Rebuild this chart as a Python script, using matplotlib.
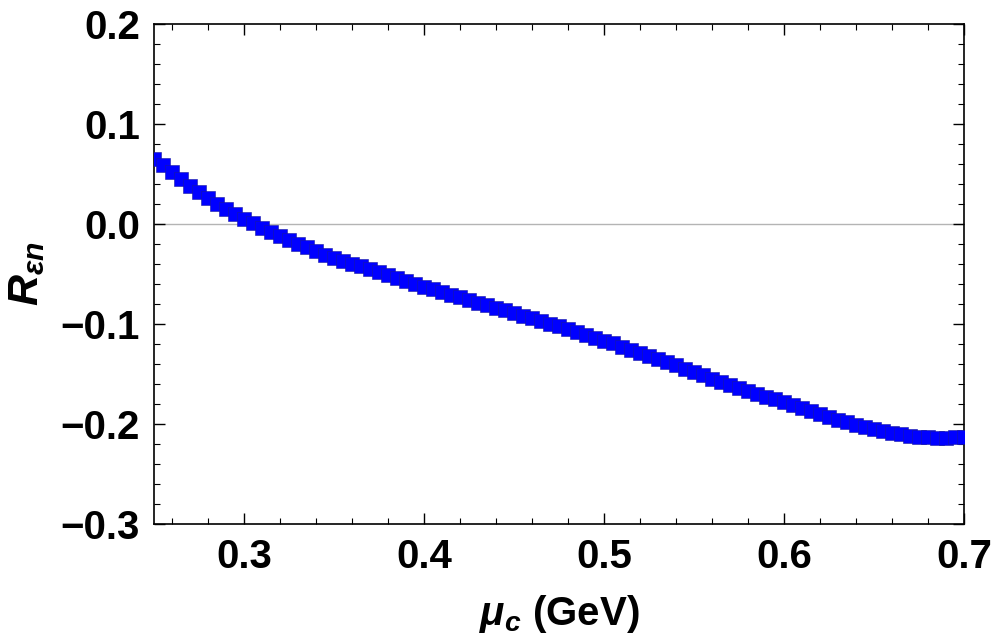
import numpy as np
import matplotlib
matplotlib.use("Agg")
import matplotlib.pyplot as plt
from matplotlib.ticker import MultipleLocator

plt.rcParams['font.family'] = ['Liberation Sans', 'DejaVu Sans']
plt.rcParams['mathtext.fontset'] = 'custom'
plt.rcParams['mathtext.it'] = 'Liberation Sans:italic:bold'
plt.rcParams['mathtext.rm'] = 'Liberation Sans:bold'
plt.rcParams['mathtext.bf'] = 'Liberation Sans:bold'

# mu_c grid (GeV)
mu_c = np.round(np.arange(0.25, 0.7001, 0.005), 3)

# R values
r_en = [
    0.0655, 0.0587, 0.0520, 0.0447, 0.0380, 0.0323, 0.0263, 0.0203, 0.0153, 0.0103,
    0.0053, 0.0010, -0.0037, -0.0080, -0.0120, -0.0157, -0.0197, -0.0230, -0.0270, -0.0307,
    -0.0337, -0.0370, -0.0400, -0.0423, -0.0453, -0.0483, -0.0513, -0.0543, -0.0570, -0.0597,
    -0.0627, -0.0653, -0.0680, -0.0707, -0.0733, -0.0760, -0.0787, -0.0810, -0.0837, -0.0863,
    -0.0890, -0.0917, -0.0943, -0.0970, -0.0997, -0.1023, -0.1050, -0.1080, -0.1110, -0.1140,
    -0.1167, -0.1193, -0.1227, -0.1257, -0.1290, -0.1320, -0.1350, -0.1383, -0.1413, -0.1450,
    -0.1483, -0.1513, -0.1550, -0.1583, -0.1612, -0.1643, -0.1674, -0.1704, -0.1728, -0.1752,
    -0.1779, -0.1810, -0.1843, -0.1873, -0.1903, -0.1930, -0.1957, -0.1983, -0.2010, -0.2033,
    -0.2053, -0.2070, -0.2087, -0.2103, -0.2117, -0.2127, -0.2133, -0.2137, -0.2137, -0.2133,
    -0.2127,
]

fig = plt.figure(figsize=(9.97, 6.44), dpi=100)
ax = fig.add_axes([0.1545, 0.1863, 0.8124, 0.7764])

ax.axhline(0, color='#b4b4b4', lw=1, zorder=1)
ax.plot(mu_c, r_en, 's', ms=10.5, color='#0000ff', mec='#1818a0', mew=0.4, zorder=3)

ax.set_xlim(0.25, 0.7)
ax.set_ylim(-0.3, 0.2)
ax.xaxis.set_minor_locator(MultipleLocator(0.02))
ax.yaxis.set_minor_locator(MultipleLocator(0.02))
ax.set_xticks([0.3, 0.4, 0.5, 0.6, 0.7])
ax.set_xticklabels(['0.3', '0.4', '0.5', '0.6', '0.7'])
ax.set_yticks([-0.3, -0.2, -0.1, 0.0, 0.1, 0.2])
ax.set_yticklabels(['\u22120.3', '\u22120.2', '\u22120.1', '0.0', '0.1', '0.2'])

ax.tick_params(which='both', direction='in', top=True, right=True, color='black')
ax.tick_params(which='major', length=8, width=1, labelsize=29, pad=10)
ax.tick_params(which='minor', length=4.5, width=0.8)
for lab in ax.get_xticklabels() + ax.get_yticklabels():
    lab.set_fontweight('bold')
for s in ax.spines.values():
    s.set_linewidth(1.2)

ax.set_xlabel(r'$\mu_c$ (GeV)', fontsize=29, fontweight='bold', labelpad=12)
ax.set_ylabel(r'$R_{\epsilon n}$', fontsize=31, fontweight='bold', labelpad=10)

fig.savefig('out.png', dpi=100)
